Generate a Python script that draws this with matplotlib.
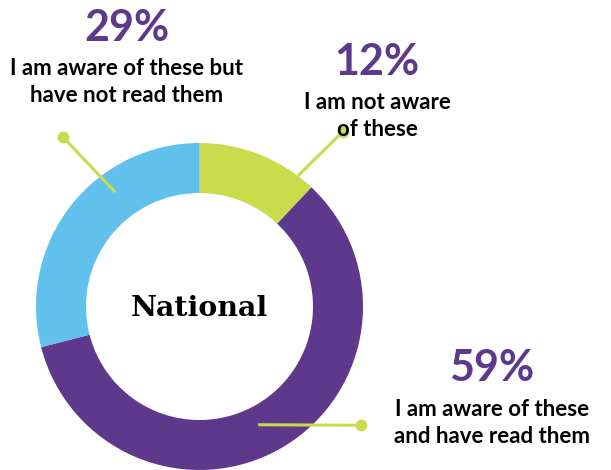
import numpy as np
import matplotlib
matplotlib.use("Agg")
import matplotlib.pyplot as plt

# Survey responses, clockwise from 12 o'clock
categories = ["I am not aware\nof these",
              "I am aware of these\nand have read them",
              "I am aware of these but\nhave not read them"]
values = [12, 59, 29]
colors = ["#C9DC4C", "#5E388A", "#61C1EC"]
center_label = "National"

PURPLE = "#5E388A"
LEAF = "#C9DC4C"
W, H = 611, 470

fig = plt.figure(figsize=(W / 100, H / 100), dpi=100)
ax = fig.add_axes([0, 0, 1, 1])

cx, cy = 199.5, H - 306.5
R = 163.5
ring = 50

ax.pie(values, colors=colors, startangle=90, counterclock=False,
       radius=R, center=(cx, cy),
       wedgeprops=dict(width=ring, linewidth=0))
ax.set_xlim(0, W)
ax.set_ylim(0, H)
ax.set_aspect("equal")
ax.axis("off")

ax.text(cx, cy - 1.5, center_label, ha="center", va="center",
        fontsize=20.5, fontweight="bold", family="DejaVu Serif", color="black")

font = "Lato"

# label blocks: (percent text position, label position)
layout = [
    dict(x=377, yp=62, yl=116),     # 12%
    dict(x=492, yp=368, yl=423),    # 59%
    dict(x=126.5, yp=28, yl=82),    # 29%
]
for val, cat, L in zip(values, categories, layout):
    ax.text(L["x"], H - L["yp"], f"{val}%", ha="center", va="center",
            fontsize=31, fontweight="bold", style="normal", family=font,
            color=PURPLE)
    ax.text(L["x"], H - L["yl"], cat, ha="center", va="center",
            fontsize=16, fontweight="bold", style="normal", family=font,
            color="black", linespacing=1.3)

# leader lines: (angle clockwise from top, inner radius) -> dot position
leaders = [
    (37.0, 163.7, (342.7, 131.7)),
    (153.6, 132.0, (360.7, 425.3)),
    (-36.4, 142.0, (62.7, 136.7)),
]
for ang, r, (dx, dy) in leaders:
    a = np.deg2rad(ang)
    x0, y0 = cx + r * np.sin(a), cy + r * np.cos(a)
    ax.plot([x0, dx], [y0, H - dy], color=LEAF, lw=2.2, solid_capstyle="butt")
    ax.plot(dx, H - dy, "o", color=LEAF, ms=8.5, mew=0)

fig.savefig("out.png", dpi=100)
